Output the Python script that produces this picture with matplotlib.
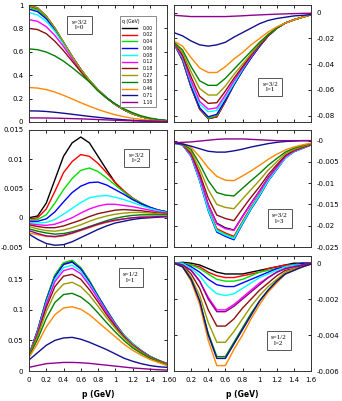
import matplotlib
matplotlib.use("Agg")
import matplotlib.pyplot as plt
from matplotlib.ticker import FuncFormatter, MultipleLocator

plt.rcParams['axes.unicode_minus'] = False
plt.rcParams['font.family'] = ['DejaVu Sans']

p = [0.0, 0.1, 0.2, 0.3, 0.4, 0.5, 0.6, 0.7, 0.8, 0.9, 1.0, 1.1, 1.2, 1.3, 1.4, 1.5, 1.6]

q_labels = ["0.00", "0.02", "0.04", "0.06", "0.08", "0.12", "0.18", "0.27", "0.38", "0.46", "0.71", "1.10"]
colors = ["#000000", "#ff0000", "#00e000", "#0000ff", "#00ffff", "#ff00ff",
          "#8b1010", "#9a9a00", "#008000", "#ff8800", "#101090", "#900090"]

# s=3/2, l=0
s32_l0 = [
    [1.0, 0.975, 0.905, 0.803, 0.682, 0.561, 0.451, 0.355, 0.275, 0.207, 0.15, 0.105, 0.07, 0.045, 0.028, 0.017, 0.01],
    [0.99, 0.966, 0.90, 0.80, 0.68, 0.56, 0.45, 0.355, 0.275, 0.207, 0.15, 0.105, 0.07, 0.045, 0.028, 0.017, 0.01],
    [0.98, 0.957, 0.893, 0.797, 0.678, 0.559, 0.45, 0.355, 0.275, 0.207, 0.15, 0.105, 0.07, 0.045, 0.028, 0.017, 0.01],
    [0.965, 0.943, 0.882, 0.79, 0.674, 0.557, 0.449, 0.354, 0.275, 0.207, 0.15, 0.105, 0.07, 0.045, 0.028, 0.017, 0.01],
    [0.935, 0.915, 0.86, 0.775, 0.665, 0.552, 0.447, 0.353, 0.274, 0.207, 0.15, 0.105, 0.071, 0.046, 0.029, 0.018, 0.011],
    [0.875, 0.86, 0.815, 0.74, 0.645, 0.54, 0.44, 0.35, 0.273, 0.206, 0.15, 0.105, 0.071, 0.046, 0.029, 0.018, 0.011],
    [0.80, 0.79, 0.755, 0.69, 0.61, 0.52, 0.43, 0.345, 0.27, 0.205, 0.15, 0.105, 0.072, 0.047, 0.03, 0.018, 0.011],
    [0.998, 0.974, 0.905, 0.803, 0.682, 0.561, 0.451, 0.355, 0.275, 0.207, 0.15, 0.105, 0.07, 0.045, 0.028, 0.017, 0.01],
    [0.625, 0.618, 0.598, 0.565, 0.52, 0.465, 0.405, 0.343, 0.265, 0.205, 0.155, 0.113, 0.08, 0.053, 0.034, 0.021, 0.013],
    [0.295, 0.29, 0.277, 0.256, 0.228, 0.197, 0.165, 0.135, 0.107, 0.083, 0.062, 0.045, 0.032, 0.022, 0.015, 0.01, 0.007],
    [0.095, 0.094, 0.09, 0.083, 0.075, 0.066, 0.057, 0.048, 0.04, 0.032, 0.025, 0.019, 0.014, 0.01, 0.007, 0.005, 0.004],
    [0.035, 0.035, 0.034, 0.033, 0.031, 0.029, 0.027, 0.024, 0.021, 0.018, 0.015, 0.012, 0.01, 0.008, 0.006, 0.005, 0.004],
]

# s=3/2, l=1
s32_l1 = [
    [-.024, -.037, -.058, -.075, -.0825, -.081, -.069, -.056, -.045, -.035, -.026, -.018, -.012, -.008, -.0055, -.0035, -.0015],
    [-.024, -.037, -.058, -.075, -.0823, -.081, -.069, -.056, -.045, -.035, -.026, -.018, -.012, -.008, -.0055, -.0035, -.0015],
    [-.024, -.036, -.057, -.074, -.082, -.080, -.068, -.056, -.045, -.035, -.026, -.018, -.012, -.008, -.0055, -.0035, -.0015],
    [-.024, -.036, -.057, -.074, -.081, -.079, -.068, -.056, -.045, -.035, -.026, -.018, -.012, -.008, -.0055, -.0035, -.0015],
    [-.024, -.035, -.055, -.071, -.077, -.076, -.066, -.055, -.044, -.034, -.025, -.018, -.012, -.008, -.0055, -.0035, -.0015],
    [-.024, -.034, -.053, -.069, -.075, -.074, -.064, -.053, -.043, -.034, -.025, -.018, -.012, -.008, -.0055, -.0035, -.0015],
    [-.023, -.033, -.050, -.065, -.0705, -.070, -.061, -.051, -.042, -.033, -.025, -.018, -.012, -.008, -.0055, -.0035, -.0015],
    [-.023, -.031, -.046, -.059, -.064, -.064, -.057, -.048, -.040, -.032, -.024, -.017, -.012, -.008, -.0055, -.0035, -.0015],
    [-.023, -.029, -.042, -.053, -.0565, -.0565, -.051, -.044, -.037, -.030, -.023, -.017, -.012, -.008, -.0055, -.0035, -.0015],
    [-.022, -.026, -.035, -.043, -.0465, -.0465, -.042, -.036, -.031, -.025, -.020, -.015, -.011, -.008, -.0055, -.0035, -.0015],
    [-.0155, -.018, -.022, -.025, -.026, -.025, -.023, -.019, -.0155, -.012, -.0085, -.006, -.0045, -.0035, -.0025, -.002, -.0015],
    [-.002, -.0025, -.003, -.003, -.003, -.003, -.003, -.0027, -.0024, -.002, -.0017, -.0014, -.0011, -.0009, -.0007, -.0005, -.0004],
]

# s=3/2, l=2
s32_l2 = [
    [0.0, 0.0003, 0.0025, 0.0065, 0.0105, 0.0128, 0.0138, 0.0128, 0.0105, 0.0082, 0.006, 0.0045, 0.0033, 0.0024, 0.0017, 0.0013, 0.001],
    [-0.0002, 0.0, 0.0015, 0.0045, 0.0077, 0.0096, 0.0108, 0.0105, 0.0093, 0.0077, 0.006, 0.0046, 0.0034, 0.0025, 0.0018, 0.0013, 0.001],
    [-0.0004, -0.0003, 0.0005, 0.0025, 0.0048, 0.0067, 0.0081, 0.0085, 0.0079, 0.0068, 0.0056, 0.0044, 0.0033, 0.0025, 0.0018, 0.0013, 0.001],
    [-0.0006, -0.0006, -0.0002, 0.001, 0.0027, 0.0043, 0.0054, 0.006, 0.0061, 0.0056, 0.0048, 0.004, 0.0031, 0.0024, 0.0018, 0.0013, 0.001],
    [-0.0008, -0.0009, -0.0008, -0.0003, 0.0006, 0.0016, 0.0026, 0.0034, 0.0037, 0.0038, 0.0035, 0.0031, 0.0026, 0.0021, 0.0016, 0.0012, 0.0009],
    [-0.001, -0.0012, -0.0013, -0.0011, -0.0006, 0.0, 0.0008, 0.0015, 0.002, 0.0023, 0.0023, 0.0021, 0.0019, 0.0016, 0.0013, 0.001, 0.0008],
    [-0.0012, -0.0015, -0.0017, -0.0017, -0.0014, -0.0009, -0.0004, 0.0002, 0.0007, 0.001, 0.0013, 0.0014, 0.0013, 0.0012, 0.001, 0.0008, 0.0007],
    [-0.0015, -0.0019, -0.0022, -0.0023, -0.0021, -0.0017, -0.0012, -0.0006, -0.0001, 0.0003, 0.0006, 0.0008, 0.0009, 0.0009, 0.0008, 0.0007, 0.0006],
    [-0.0019, -0.0023, -0.0026, -0.0028, -0.0027, -0.0024, -0.002, -0.0015, -0.001, -0.0005, -0.0001, 0.0002, 0.0004, 0.0005, 0.0005, 0.0005, 0.0005],
    [-0.0026, -0.0029, -0.0032, -0.0033, -0.0031, -0.0027, -0.0022, -0.0017, -0.0012, -0.0008, -0.0005, -0.0002, 0.0, 0.0001, 0.0002, 0.0002, 0.0003],
    [-0.0028, -0.0037, -0.0044, -0.0047, -0.0046, -0.0041, -0.0034, -0.0027, -0.002, -0.0014, -0.0009, -0.0006, -0.0003, -0.0001, 0.0, 0.0001, 0.0002],
    [-0.0022, -0.0027, -0.0031, -0.0032, -0.003, -0.0026, -0.0021, -0.0016, -0.0011, -0.0007, -0.0004, -0.0002, 0.0, 0.0001, 0.0001, 0.0002, 0.0002],
]

# s=3/2, l=3
s32_l3 = [
    [-.0005, -.0009, -.0033, -.0086, -.015, -.0194, -.0205, -.021, -.0178, -.0147, -.0118, -.0087, -.0062, -.0038, -.0024, -.0017, -.001],
    [-.0006, -.001, -.0036, -.0092, -.016, -.0207, -.0217, -.0225, -.019, -.0156, -.0126, -.0092, -.0066, -.004, -.0026, -.0018, -.001],
    [-.0006, -.001, -.0036, -.0093, -.0162, -.021, -.022, -.0228, -.0192, -.0158, -.0127, -.0093, -.0067, -.004, -.0026, -.0018, -.001],
    [-.0006, -.001, -.0037, -.0095, -.0165, -.0215, -.0225, -.0233, -.0196, -.0161, -.013, -.0095, -.0068, -.0041, -.0026, -.0018, -.001],
    [-.0006, -.001, -.0036, -.0094, -.0163, -.0212, -.0222, -.023, -.0194, -.0159, -.0128, -.0094, -.0067, -.0041, -.0026, -.0018, -.001],
    [-.0005, -.0009, -.0034, -.0087, -.0151, -.0196, -.0207, -.0211, -.0179, -.0148, -.0119, -.0088, -.0063, -.0038, -.0025, -.0017, -.001],
    [-.0005, -.0009, -.003, -.0078, -.0135, -.0175, -.0183, -.0188, -.016, -.0133, -.0108, -.008, -.0057, -.0035, -.0023, -.0016, -.0009],
    [-.0005, -.0008, -.0026, -.0067, -.0115, -.015, -.0157, -.016, -.0137, -.0115, -.0093, -.0069, -.005, -.0031, -.0021, -.0014, -.0008],
    [-.0005, -.0007, -.0021, -.0055, -.0094, -.0122, -.0128, -.013, -.0112, -.0094, -.0077, -.0058, -.0042, -.0027, -.0018, -.0012, -.0007],
    [-.0005, -.0006, -.0016, -.0038, -.0064, -.0084, -.0093, -.0094, -.0083, -.0071, -.0058, -.0044, -.0032, -.0022, -.0015, -.001, -.0006],
    [-.0005, -.0008, -.0013, -.0019, -.0025, -.0027, -.0027, -.0024, -.002, -.0015, -.0011, -.0007, -.0004, -.0002, -.0001, 0.0, 0.0],
    [-.0005, -.0004, -.0003, -.0001, .0001, .0003, .0004, .0004, .0004, .0003, .0002, .0001, 0.0, 0.0, 0.0, 0.0, 0.0],
]

# s=1/2, l=1
s12_l1 = [
    [.026, .066, .116, .156, .176, .180, .168, .147, .122, .099, .077, .058, .044, .033, .024, .017, .012],
    [.026, .066, .116, .156, .176, .1805, .1685, .1475, .1225, .0995, .0775, .0585, .0445, .0335, .024, .0175, .012],
    [.026, .067, .117, .157, .177, .181, .169, .148, .123, .100, .078, .059, .045, .034, .024, .018, .012],
    [.026, .066, .115, .154, .174, .178, .167, .146, .122, .099, .077, .058, .044, .033, .024, .017, .012],
    [.026, .064, .112, .150, .169, .173, .163, .143, .120, .097, .076, .058, .044, .033, .024, .017, .012],
    [.026, .063, .109, .146, .164, .168, .159, .140, .118, .096, .075, .057, .043, .033, .023, .017, .012],
    [.025, .060, .104, .138, .155, .158, .150, .133, .113, .092, .073, .056, .042, .032, .023, .017, .011],
    [.025, .057, .097, .127, .142, .145, .138, .124, .106, .087, .070, .054, .041, .031, .022, .016, .011],
    [.024, .052, .086, .112, .125, .127, .121, .110, .095, .079, .064, .050, .038, .029, .021, .015, .010],
    [.022, .045, .072, .092, .103, .105, .101, .092, .080, .068, .056, .044, .034, .026, .019, .014, .009],
    [.018, .030, .042, .050, .054, .055, .052, .047, .041, .035, .028, .021, .016, .012, .009, .007, .006],
    [.006, .009, .012, .013, .014, .014, .0135, .0125, .011, .0095, .008, .0065, .005, .004, .003, .002, .0015],
]

# s=1/2, l=2
s12_l2 = [
    [0, .00005, 0, -.0001, -.0003, -.0005, -.0006, -.0006, -.0006, -.0005, -.0004, -.0003, -.0002, -.0001, 0, 0, 0],
    [0, 0, -.0001, -.0002, -.0005, -.0007, -.0008, -.0008, -.0007, -.0006, -.0005, -.0003, -.0002, -.0001, -.0001, 0, 0],
    [0, 0, -.0001, -.0003, -.0006, -.0009, -.001, -.001, -.0009, -.0007, -.0005, -.0004, -.0003, -.0002, -.0001, 0, 0],
    [0, 0, -.0002, -.0005, -.0009, -.0012, -.0013, -.0013, -.0011, -.0009, -.0007, -.0005, -.0003, -.0002, -.0001, 0, 0],
    [0, 0, -.0003, -.0007, -.0013, -.0017, -.0018, -.0017, -.0014, -.0011, -.0008, -.0006, -.0004, -.0002, -.0001, -.0001, 0],
    [0, -.0001, -.0004, -.001, -.0019, -.0026, -.0026, -.0023, -.0019, -.0015, -.0011, -.0008, -.0005, -.0003, -.0002, -.0001, 0],
    [0, -.0001, -.0006, -.0014, -.0026, -.0035, -.0035, -.0031, -.0025, -.002, -.0015, -.0011, -.0007, -.0004, -.0003, -.0001, 0],
    [0, -.0001, -.0008, -.0018, -.0033, -.0044, -.0044, -.0038, -.0031, -.0024, -.0018, -.0013, -.0009, -.0005, -.0003, -.0002, 0],
    [0, -.0002, -.0009, -.0021, -.0039, -.0052, -.0052, -.0044, -.0036, -.0028, -.0021, -.0015, -.001, -.0006, -.0004, -.0002, -.00005],
    [0, -.0002, -.001, -.0023, -.0043, -.0057, -.0057, -.0048, -.004, -.0031, -.0023, -.0016, -.0011, -.0006, -.0004, -.0002, -.00005],
    [0, -.0002, -.0009, -.0021, -.004, -.0053, -.0053, -.0045, -.0037, -.0029, -.0021, -.0015, -.001, -.0006, -.0004, -.0002, -.00005],
    [0, -.0001, -.0004, -.001, -.002, -.0027, -.0027, -.0024, -.002, -.0016, -.0012, -.0008, -.0005, -.0003, -.0002, -.0001, 0],
]

panels = [
    (s32_l0, (0.0, 1.0), 0.2, "s=3/2\nl=0", (0.366, 0.829), 'left'),
    (s32_l1, (-0.085, 0.006), 0.02, "s=3/2\nl=1", (0.704, 0.299), 'right'),
    (s32_l2, (-0.005, 0.015), 0.005, "s=3/2\nl=2", (0.779, 0.76), 'left'),
    (s32_l3, (-0.025, 0.0025), 0.005, "s=3/2\nl=3", (0.774, 0.244), 'right'),
    (s12_l1, (0.0, 0.188), 0.05, "s=1/2\nl=1", (0.739, 0.813), 'left'),
    (s12_l2, (-0.006, 0.0004), 0.002, "s=1/2\nl=2", (0.766, 0.265), 'right'),
]

W, H = 342, 401
fig = plt.figure(figsize=(W / 100, H / 100), dpi=100)

cols = [(29, 167), (174, 311)]
rows = [(5, 122), (130, 247), (256, 371)]

fmt = FuncFormatter(lambda v, pos: "%g" % round(v, 6))

for i, (data, ylim, ystep, label, tpos, side) in enumerate(panels):
    r, c = divmod(i, 2)
    x0, x1 = cols[c]
    y0, y1 = rows[r]
    ax = fig.add_axes([x0 / W, 1 - y1 / H, (x1 - x0) / W, (y1 - y0) / H])
    for k, series in enumerate(data):
        ax.plot(p, series, color=colors[k], lw=1.0, label=q_labels[k])
    ax.set_xlim(0, 1.6)
    ax.set_ylim(*ylim)
    ax.xaxis.set_major_locator(MultipleLocator(0.2))
    ax.yaxis.set_major_locator(MultipleLocator(ystep))
    ax.xaxis.set_major_formatter(fmt)
    ax.yaxis.set_major_formatter(fmt)
    ax.tick_params(direction='in', top=True, right=True, length=2.5, width=0.6,
                   labelsize=5)
    ax.tick_params(axis='y', pad=4)
    ax.tick_params(axis='x', pad=4.5)
    if side == 'right':
        ax.tick_params(labelleft=False, labelright=True)
    if r < 2:
        ax.tick_params(labelbottom=False)
    else:
        ax.set_xlabel("p (GeV)", fontsize=5.5, fontweight='bold', labelpad=5)
    for s in ax.spines.values():
        s.set_linewidth(0.7)
        s.set_color('#333333')
    ax.text(tpos[0], tpos[1], label, transform=ax.transAxes, ha='center', va='center',
            fontsize=5, family='Liberation Serif', linespacing=1.1,
            bbox=dict(boxstyle='square,pad=0.6', fc='white', ec='#555555', lw=0.7))
    if i == 0:
        leg = ax.legend(loc='upper right', bbox_to_anchor=(0.935, 0.925), fontsize=3.3,
                        title="q (GeV)", title_fontsize=3.3, handlelength=3.2,
                        labelspacing=0.38, borderpad=0.6, handletextpad=1.2,
                        fancybox=False, framealpha=1, edgecolor='#777777')
        leg.get_frame().set_linewidth(0.6)
        leg._legend_box.align = "left"

fig.savefig("out.png", dpi=100)
